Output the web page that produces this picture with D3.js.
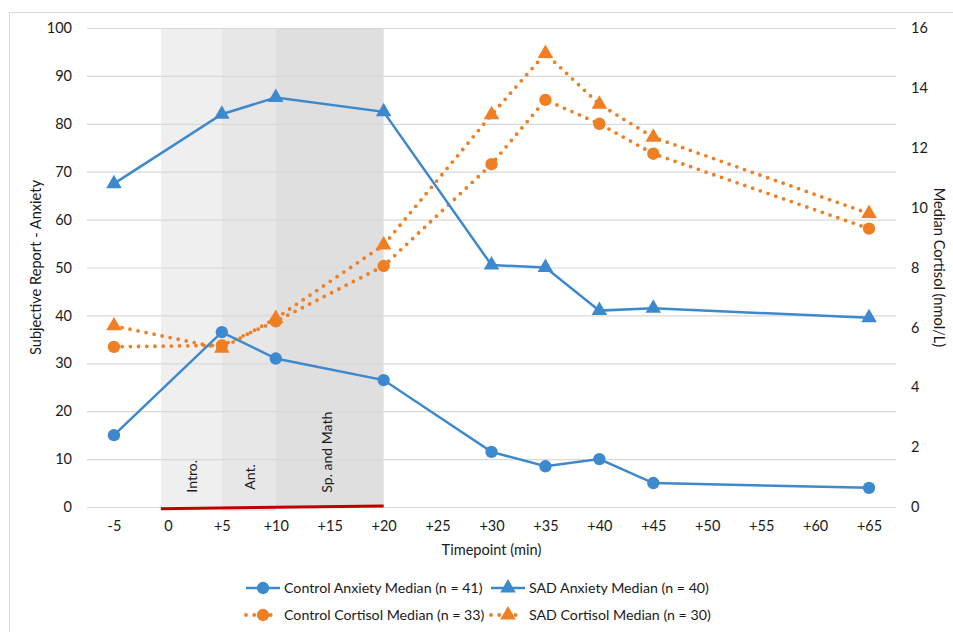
<!DOCTYPE html>
<html>
<head>
<meta charset="utf-8">
<script src="https://cdn.jsdelivr.net/npm/d3@7"></script>
<style>
  body { margin: 0; background: #fff; }
  text { font-family: Lato, "Open Sans", sans-serif; fill: #1a1a1a; }
</style>
</head>
<body>
<div id="chart"></div>
<script>
// timepoints (minutes) and tick labels
const timepoints = [-5, 5, 10, 20, 30, 35, 40, 45, 65];
const tickMinutes = [-5, 0, 5, 10, 15, 20, 25, 30, 35, 40, 45, 50, 55, 60, 65];
const tickLabels = ["-5", "0", "+5", "+10", "+15", "+20", "+25", "+30", "+35", "+40", "+45", "+50", "+55", "+60", "+65"];

// anxiety (left axis, 0-100)
const controlAnxiety = [15, 36.5, 31, 26.5, 11.5, 8.5, 10, 5, 4];
const sadAnxiety = [67.5, 82, 85.5, 82.5, 50.5, 50, 41, 41.5, 39.5];
// cortisol (right axis, nmol/L)
const controlCortisol = [5.35, 5.4, 6.2, 8.05, 11.45, 13.6, 12.8, 11.8, 9.3];
const sadCortisol = [6.05, 5.3, 6.3, 8.75, 13.1, 15.15, 13.45, 12.35, 9.8];

// TSST phases (minutes)
const phaseNames = ["Intro.", "Ant.", "Sp. and Math"];
const phaseStart = [-0.65, 5, 10];
const phaseEnd = [5, 10, 20];
const phaseFill = ["#efefef", "#e7e7e7", "#dfdfdf"];
const phaseLabelAt = [2.25, 7.6, 14.75];
const phaseLabelBase = [3, 3.6, 3];

const leftTicks = d3.range(0, 101, 10);
const rightTicks = d3.range(0, 17, 2);

const width = 953, height = 632;
const margin = {top: 28, left: 87, right: 57, bottom: 125};
const plotW = width - margin.left - margin.right;
const plotH = height - margin.top - margin.bottom;

const blue = "#3d89cd", orange = "#f07f24";
const tickFont = "14.5px", titleFont = "14.6px";

const svg = d3.select("#chart").append("svg")
    .attr("width", width)
    .attr("height", height)
    .style("background", "#fff");

// outer chart border (Excel chart area)
svg.append("rect")
    .attr("x", 9.5).attr("y", 12.5)
    .attr("width", 980).attr("height", 660)
    .attr("fill", "none")
    .attr("stroke", "#d9d9d9");

const g = svg.append("g").attr("transform", `translate(${margin.left},${margin.top})`);

const step = plotW / tickMinutes.length;
const x = d3.scaleLinear()
    .domain([-5, 65])
    .range([step / 2, plotW - step / 2]);
const yL = d3.scaleLinear().domain([0, 100]).range([plotH, 0]);
const yR = d3.scaleLinear().domain([0, 16]).range([plotH, 0]);

// phase shading
g.selectAll("rect.phase")
    .data(phaseNames)
    .enter().append("rect")
    .attr("class", "phase")
    .attr("x", (d, i) => x(phaseStart[i]))
    .attr("width", (d, i) => x(phaseEnd[i]) - x(phaseStart[i]))
    .attr("y", 0)
    .attr("height", (d, i) => plotH + (i === 1 ? 4 : 0))
    .attr("fill", (d, i) => phaseFill[i]);

// gridlines
g.append("g")
    .call(d3.axisLeft(yL).tickValues(leftTicks).tickSize(-plotW).tickFormat(""))
    .call(a => a.select(".domain").remove())
    .call(a => a.selectAll("line").attr("stroke", "#d9d9d9").attr("stroke-width", 1.2));

function styleTicks(a) {
    a.select(".domain").remove();
    a.selectAll("text")
        .style("font-size", tickFont)
        .style("font-family", "Lato, sans-serif")
        .attr("fill", "#1a1a1a");
}

// left axis labels
g.append("g")
    .call(d3.axisLeft(yL).tickValues(leftTicks).tickSize(0).tickPadding(15))
    .call(styleTicks);

// right axis labels
g.append("g")
    .attr("transform", `translate(${plotW},0)`)
    .call(d3.axisRight(yR).tickValues(rightTicks).tickSize(0).tickPadding(15))
    .call(styleTicks);

// x axis labels
g.append("g")
    .attr("transform", `translate(0,${plotH})`)
    .call(d3.axisBottom(x).tickValues(tickMinutes).tickSize(0).tickPadding(14)
        .tickFormat((d, i) => tickLabels[i]))
    .call(styleTicks);

// red stress period line
const redLine = [[-0.65, -0.35], [20, 0.2]];
g.append("path")
    .attr("d", d3.line().x(d => x(d[0])).y(d => yL(d[1]))(redLine))
    .attr("stroke", "#c00000")
    .attr("stroke-width", 3)
    .attr("fill", "none");

// phase labels (rotated)
g.selectAll("text.phase-label")
    .data(phaseNames)
    .enter().append("text")
    .attr("class", "phase-label")
    .attr("transform", (d, i) => `translate(${x(phaseLabelAt[i]) + 5},${yL(phaseLabelBase[i])}) rotate(-90)`)
    .style("font-size", "14px")
    .text(d => d);

// axis titles
svg.append("text")
    .attr("transform", `translate(41,${margin.top + plotH / 2}) rotate(-90)`)
    .attr("text-anchor", "middle")
    .style("font-size", titleFont)
    .text("Subjective Report - Anxiety");

svg.append("text")
    .attr("transform", `translate(934,${margin.top + plotH / 2}) rotate(90)`)
    .attr("text-anchor", "middle")
    .style("font-size", titleFont)
    .text("Median Cortisol (nmol/L)");

svg.append("text")
    .attr("x", margin.left + plotW / 2)
    .attr("y", 555)
    .attr("text-anchor", "middle")
    .style("font-size", titleFont)
    .text("Timepoint (min)");

// series
const series = [
    {name: "Control Anxiety Median (n = 41)", values: controlAnxiety, scale: yL, color: blue, dotted: false, symbol: d3.symbolCircle},
    {name: "SAD Anxiety Median (n = 40)", values: sadAnxiety, scale: yL, color: blue, dotted: false, symbol: d3.symbolTriangle},
    {name: "Control Cortisol Median (n = 33)", values: controlCortisol, scale: yR, color: orange, dotted: true, symbol: d3.symbolCircle},
    {name: "SAD Cortisol Median (n = 30)", values: sadCortisol, scale: yR, color: orange, dotted: true, symbol: d3.symbolTriangle}
];

function styleLine(sel, s) {
    sel.attr("fill", "none")
        .attr("stroke", s.color)
        .attr("stroke-width", s.dotted ? 3.8 : 2.5)
        .attr("stroke-linecap", s.dotted ? "round" : "butt")
        .attr("stroke-dasharray", s.dotted ? "0 8.2" : null);
}

function symbolSize(s) {
    return s.symbol === d3.symbolCircle ? 120 : 105;
}

// cortisol drawn first, anxiety on top
[2, 3, 0, 1].forEach(k => {
    const s = series[k];
    const line = d3.line()
        .x((d, i) => x(timepoints[i]))
        .y(d => s.scale(d));
    g.append("path")
        .datum(s.values)
        .attr("d", line)
        .call(styleLine, s);
    g.selectAll(null)
        .data(s.values)
        .enter().append("path")
        .attr("transform", (d, i) => `translate(${x(timepoints[i])},${s.scale(d)})`)
        .attr("d", d3.symbol().type(s.symbol).size(symbolSize(s)))
        .attr("fill", s.color);
});

// legend
const legendX = [246, 491];
const legendY = [588, 615];
series.forEach((s, k) => {
    const lx = legendX[k % 2], ly = legendY[Math.floor(k / 2)];
    const lg = svg.append("g").attr("transform", `translate(${lx},${ly})`);
    lg.append("line")
        .attr("x1", 0).attr("x2", s.dotted ? 30 : 34)
        .attr("y1", 0).attr("y2", 0)
        .call(styleLine, s);
    lg.append("path")
        .attr("transform", `translate(17,0)`)
        .attr("d", d3.symbol().type(s.symbol).size(symbolSize(s)))
        .attr("fill", s.color);
    lg.append("text")
        .attr("x", 38)
        .attr("y", 5)
        .style("font-size", "14.2px")
        .text(s.name);
});
</script>
</body>
</html>
